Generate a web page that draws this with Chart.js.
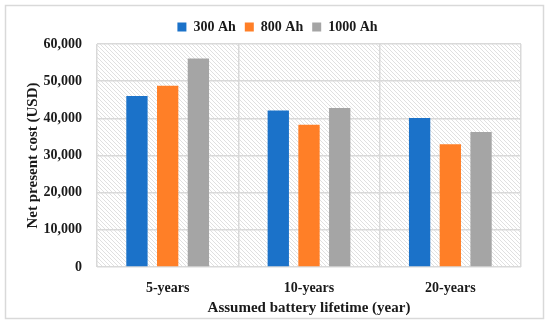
<!DOCTYPE html>
<html>
<head>
<meta charset="utf-8">
<script src="https://cdn.jsdelivr.net/npm/chart.js@4.4.0/dist/chart.umd.min.js"></script>
<style>
  html, body { margin: 0; padding: 0; background: #fff; }
  #wrap { width: 550px; height: 324px; position: relative; }
</style>
</head>
<body>
<div id="wrap"><canvas id="npcChart" width="550" height="324"></canvas></div>
<script>
const categories = ['5-years', '10-years', '20-years']
const seriesNames = ['300 Ah', '800 Ah', '1000 Ah']
const cost300 = [46000, 42100, 40100]
const cost800 = [48800, 38300, 33000]
const cost1000 = [56100, 42800, 36300]
const yTicks = [0, 10000, 20000, 30000, 40000, 50000, 60000]

const colors = ['#1B72C9', '#FF7F27', '#A5A5A5']
const FONT = "'Liberation Serif', 'DejaVu Serif', serif"

// diagonal hatch used as plot background
function makeHatch() {
  const c = document.createElement('canvas')
  c.width = 4; c.height = 4
  const g = c.getContext('2d')
  g.strokeStyle = '#e0e0e0'
  g.lineWidth = 1
  g.beginPath()
  g.moveTo(-1, -1); g.lineTo(5, 5)
  g.moveTo(-1, 3); g.lineTo(1, 5)
  g.moveTo(3, -1); g.lineTo(5, 1)
  g.stroke()
  return g.createPattern(c, 'repeat')
}

const backdrop = {
  id: 'backdrop',
  afterLayout(chart) {
    // legend in the original sits a bit right of the padded box centre
    chart.legend.left += 13
    chart.legend.right += 13
  },
  beforeDraw(chart) {
    const { ctx, chartArea: a } = chart
    ctx.save()
    ctx.fillStyle = '#fff'
    ctx.fillRect(0, 0, chart.width, chart.height)
    ctx.strokeStyle = '#d9d9d9'
    ctx.lineWidth = 1.5
    ctx.strokeRect(5.5, 5.5, 538, 313)
    ctx.fillStyle = makeHatch()
    ctx.fillRect(a.left, a.top, a.right - a.left, a.bottom - a.top)
    ctx.restore()
  }
}

const datasets = [cost300, cost800, cost1000].map((vals, i) => ({
  label: seriesNames[i],
  data: vals,
  backgroundColor: colors[i],
  borderWidth: 0,
  categoryPercentage: 0.652,
  barPercentage: 0.694
}))

new Chart(document.getElementById('npcChart'), {
  type: 'bar',
  data: { labels: categories, datasets },
  plugins: [backdrop],
  options: {
    responsive: false,
    animation: false,
    layout: { padding: { left: 8, right: 29, top: 11, bottom: 0 } },
    plugins: {
      tooltip: { enabled: false },
      legend: {
        position: 'top',
        labels: {
          boxWidth: 9,
          boxHeight: 9,
          padding: 9,
          color: '#1a1a1a',
          font: { family: FONT, size: 14, weight: 'bold' }
        }
      }
    },
    scales: {
      x: {
        grid: { color: '#d9d9d9', lineWidth: 1.5, drawTicks: false, offset: true },
        border: { display: false },
        ticks: { color: '#1a1a1a', padding: 13, font: { family: FONT, size: 14, weight: 'bold' } },
        title: {
          display: true,
          text: 'Assumed battery lifetime (year)',
          color: '#1a1a1a',
          padding: { top: 0, bottom: 7 },
          font: { family: FONT, size: 15, weight: 'bold' }
        },
        afterFit(scale) { scale.height = 57 }
      },
      y: {
        min: 0,
        max: 60000,
        afterBuildTicks(scale) { scale.ticks = yTicks.map(v => ({ value: v })) },
        grid: { color: '#d9d9d9', lineWidth: 1.5, drawTicks: false },
        border: { display: false },
        ticks: {
          color: '#1a1a1a',
          padding: 15,
          font: { family: FONT, size: 14, weight: 'bold' },
          callback: v => v.toLocaleString('en-US')
        },
        title: {
          display: true,
          text: 'Net present cost (USD)',
          color: '#1a1a1a',
          padding: { top: 16, bottom: 0 },
          font: { family: FONT, size: 15, weight: 'bold' }
        },
        afterFit(scale) { scale.width = 89 }
      }
    }
  }
})
</script>
</body>
</html>
